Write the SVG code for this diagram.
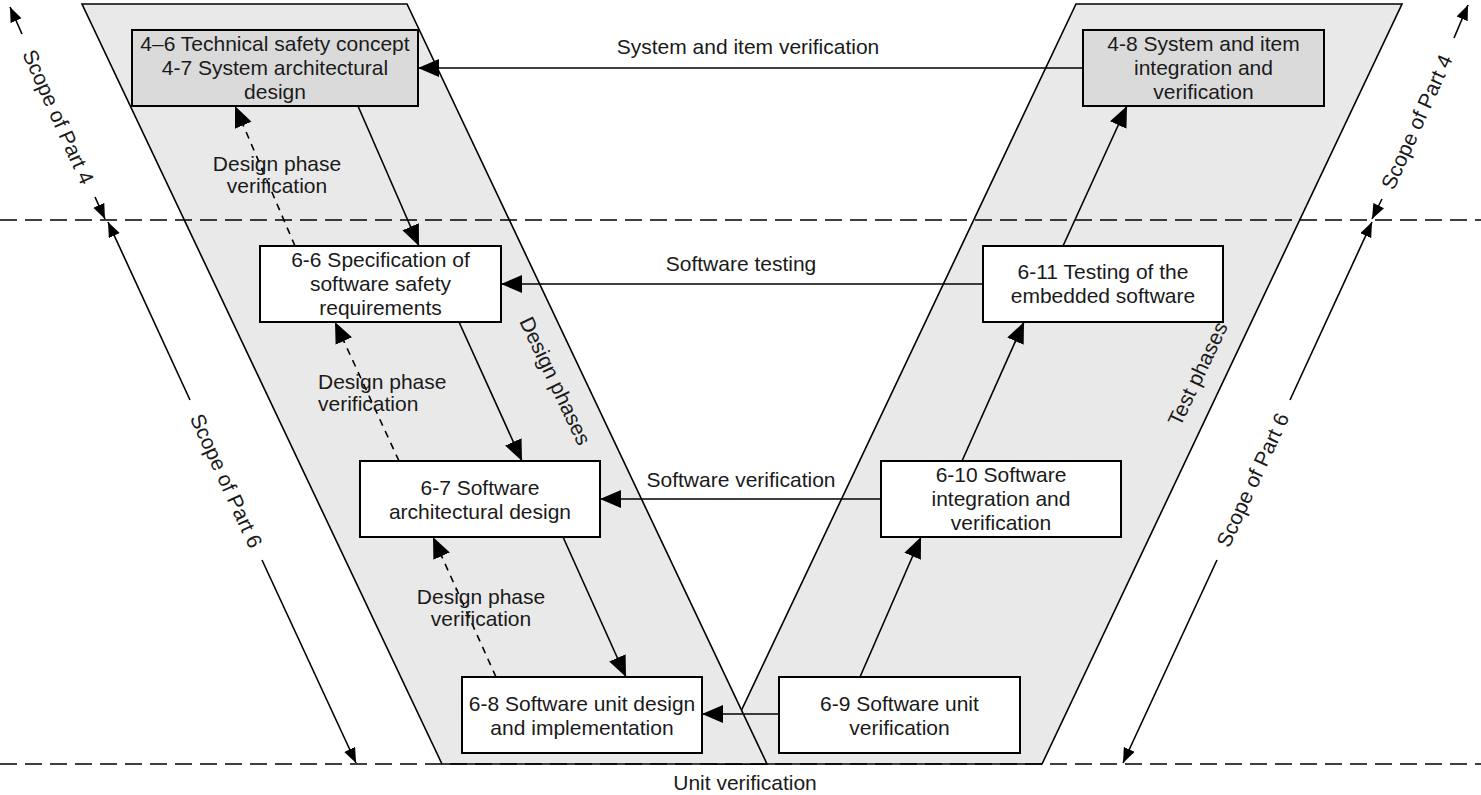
<svg xmlns="http://www.w3.org/2000/svg" width="1481" height="795" viewBox="0 0 1481 795">
<style>
text{font-family:"Liberation Sans",Arial,sans-serif;font-size:21px;fill:#1a1a1a;text-anchor:middle}
.para{fill:#e9e9e9;stroke:#000;stroke-width:1.6}
.box{fill:#fff;stroke:#000;stroke-width:2}
.box.g{fill:#dadada}
.ln{stroke:#000;stroke-width:1.6;fill:none}
.dash{stroke:#000;stroke-width:1.6;fill:none;stroke-dasharray:7 6}
.hd{stroke:#000;stroke-width:1.6;fill:none;stroke-dasharray:17 8}
.left{text-anchor:start}
</style>
<defs>
<marker id="ah" markerUnits="userSpaceOnUse" markerWidth="23" markerHeight="20" refX="21" refY="9" orient="auto"><path d="M0,0 L21,9 L0,18 z" fill="#000"/></marker>
<marker id="as" markerUnits="userSpaceOnUse" markerWidth="17" markerHeight="13" refX="15" refY="6" orient="auto"><path d="M0,0 L15,6 L0,12 z" fill="#000"/></marker>
</defs>
<rect width="1481" height="795" fill="#fff"/>
<g id="phases">
<polygon class="para" points="1076,4 1402,4 1042,764 716,764"/>
<polygon class="para" points="82,4 407,4 767,764 442,764"/>
<text transform="translate(555,381) rotate(64.6)" x="0" y="7">Design phases</text>
<text transform="translate(1198,374) rotate(-64.6)" x="0" y="7">Test phases</text>
</g>
<g id="levels">
<line class="hd" x1="0" y1="220" x2="1481" y2="220"/>
<line class="hd" x1="0" y1="764" x2="1481" y2="764"/>
</g>
<g id="scopes">
<line class="ln" x1="22" y1="34" x2="10" y2="7" marker-end="url(#as)"/>
<line class="ln" x1="95" y1="197" x2="105" y2="219" marker-end="url(#as)"/>
<text transform="translate(58,117) rotate(65.9)" x="0" y="7">Scope of Part 4</text>
<line class="ln" x1="190" y1="400" x2="108" y2="222" marker-end="url(#as)"/>
<line class="ln" x1="262" y1="560" x2="356" y2="763" marker-end="url(#as)"/>
<text transform="translate(226,481) rotate(65.4)" x="0" y="7">Scope of Part 6</text>
<line class="ln" x1="1454" y1="38" x2="1468" y2="5" marker-end="url(#as)"/>
<line class="ln" x1="1382" y1="199" x2="1372" y2="219" marker-end="url(#as)"/>
<text transform="translate(1417,122) rotate(-65.9)" x="0" y="7">Scope of Part 4</text>
<line class="ln" x1="1290" y1="400" x2="1372" y2="222" marker-end="url(#as)"/>
<line class="ln" x1="1217" y1="560" x2="1123" y2="763" marker-end="url(#as)"/>
<text transform="translate(1253,480) rotate(-65.3)" x="0" y="7">Scope of Part 6</text>
</g>
<g id="connectors">
<line class="ln" x1="1083" y1="68" x2="418" y2="68" marker-end="url(#ah)"/>
<text x="748" y="54">System and item verification</text>
<line class="ln" x1="983" y1="284" x2="501" y2="284" marker-end="url(#ah)"/>
<text x="741" y="271">Software testing</text>
<line class="ln" x1="881" y1="499" x2="600" y2="499" marker-end="url(#ah)"/>
<text x="741" y="487">Software verification</text>
<line class="ln" x1="779" y1="714" x2="702" y2="714" marker-end="url(#ah)"/>
<text x="745" y="790">Unit verification</text>
<line class="ln" x1="358" y1="106" x2="419" y2="246" marker-end="url(#ah)"/>
<line class="ln" x1="459" y1="322" x2="522" y2="461" marker-end="url(#ah)"/>
<line class="ln" x1="563" y1="537" x2="626" y2="677" marker-end="url(#ah)"/>
<line class="dash" x1="295" y1="246" x2="235" y2="106" marker-end="url(#ah)"/>
<line class="dash" x1="399" y1="461" x2="335" y2="322" marker-end="url(#ah)"/>
<line class="dash" x1="496" y1="677" x2="433" y2="537" marker-end="url(#ah)"/>
<text x="277" y="171">Design phase</text>
<text x="277" y="193">verification</text>
<text class="left" x="318" y="389">Design phase</text>
<text class="left" x="318" y="411">verification</text>
<text x="481" y="604">Design phase</text>
<text x="481" y="626">verification</text>
<line class="ln" x1="860" y1="677" x2="921" y2="537" marker-end="url(#ah)"/>
<line class="ln" x1="962" y1="461" x2="1024" y2="322" marker-end="url(#ah)"/>
<line class="ln" x1="1063" y1="246" x2="1127" y2="106" marker-end="url(#ah)"/>
</g>
<g id="n46">
<rect class="box g" x="132" y="30" width="286" height="76"/>
<text x="275" y="50.5">4–6 Technical safety concept</text>
<text x="275" y="74.5">4-7 System architectural</text>
<text x="275" y="98.5">design</text>
</g>
<g id="n48">
<rect class="box g" x="1083" y="30" width="241" height="76"/>
<text x="1203.5" y="50.5">4-8 System and item</text>
<text x="1203.5" y="74.5">integration and</text>
<text x="1203.5" y="98.5">verification</text>
</g>
<g id="n66">
<rect class="box" x="260" y="246" width="241" height="76"/>
<text x="380.5" y="266.5">6-6 Specification of</text>
<text x="380.5" y="290.5">software safety</text>
<text x="380.5" y="314.5">requirements</text>
</g>
<g id="n611">
<rect class="box" x="983" y="246" width="240" height="76"/>
<text x="1103" y="279">6-11 Testing of the</text>
<text x="1103" y="303">embedded software</text>
</g>
<g id="n67">
<rect class="box" x="360" y="461" width="240" height="76"/>
<text x="480" y="494.5">6-7 Software</text>
<text x="480" y="518.5">architectural design</text>
</g>
<g id="n610">
<rect class="box" x="881" y="461" width="240" height="76"/>
<text x="1001" y="481.5">6-10 Software</text>
<text x="1001" y="505.5">integration and</text>
<text x="1001" y="529.5">verification</text>
</g>
<g id="n68">
<rect class="box" x="462" y="677" width="240" height="76"/>
<text x="582" y="710.5">6-8 Software unit design</text>
<text x="582" y="734.5">and implementation</text>
</g>
<g id="n69">
<rect class="box" x="779" y="677" width="241" height="76"/>
<text x="899.5" y="710.5">6-9 Software unit</text>
<text x="899.5" y="734.5">verification</text>
</g>
</svg>
